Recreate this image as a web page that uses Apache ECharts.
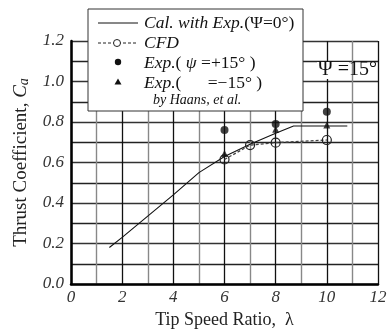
<!DOCTYPE html>
<html><head><meta charset="utf-8">
<script src="https://cdn.jsdelivr.net/npm/echarts@6/dist/echarts.min.js"></script>
<style>html,body{margin:0;padding:0;background:#fff}#c{width:387px;height:329px}</style>
</head><body><div id="c"></div>
<script>
// Data
const calX = [1.5, 2, 3, 4, 5, 6, 7, 8, 8.7, 10.8];
const calY = [0.18, 0.23, 0.335, 0.44, 0.55, 0.63, 0.69, 0.745, 0.78, 0.78];
const cfdX = [6, 7, 8, 10];
const cfdY = [0.615, 0.686, 0.698, 0.711];
const expPlusX = [6, 8, 10];
const expPlusY = [0.76, 0.79, 0.851];
const expMinusX = [6, 8, 10];
const expMinusY = [0.645, 0.764, 0.785];
const xTicks = [0, 2, 4, 6, 8, 10, 12];
const yTicks = ['0.0', '0.2', '0.4', '0.6', '0.8', '1.0', '1.2'];

const zip = (a, b) => a.map((v, i) => [v, b[i]]);
const serif = '"Liberation Serif", "DejaVu Serif", serif';
const chart = echarts.init(document.getElementById('c'));
const option = {
  animation: false,
  backgroundColor: '#fff',
  grid: { left: 71, right: 9, top: 41, bottom: 45, containLabel: false, outerBoundsMode: 'none' },
  xAxis: {
    type: 'value', min: 0, max: 12, interval: 2,
    name: 'Tip Speed Ratio,  λ', nameLocation: 'middle', nameGap: 26,
    nameTextStyle: { fontFamily: serif, fontSize: 18, color: '#222' },
    axisLine: { lineStyle: { color: '#000', width: 2.5 } },
    axisTick: { show: false },
    axisLabel: { fontFamily: serif, fontStyle: 'italic', fontSize: 17, color: '#333', margin: 5,
      formatter: v => String(v) },
    splitLine: { show: true, lineStyle: { color: '#111', width: 1.3 } },
    minorTick: { show: false, splitNumber: 2 },
    minorSplitLine: { show: true, lineStyle: { color: '#888', width: 1.4 } }
  },
  yAxis: {
    type: 'value', min: 0, max: 1.2, interval: 0.2,
    name: '{t|Thrust Coefficient, }{i|C}{s|a}', nameLocation: 'middle', nameGap: 40,
    nameTextStyle: { rich: {
      t: { fontFamily: serif, fontSize: 19, color: '#222' },
      i: { fontFamily: serif, fontSize: 19, fontStyle: 'italic', color: '#222' },
      s: { fontFamily: serif, fontSize: 14, fontStyle: 'italic', color: '#222', padding: [6, 0, 0, 0] }
    } },
    axisLine: { show: true, lineStyle: { color: '#000', width: 2.5 } },
    axisTick: { show: false },
    axisLabel: { fontFamily: serif, fontStyle: 'italic', fontSize: 17, color: '#333', margin: 7,
      formatter: (v) => yTicks[Math.round(v / 0.2)] },
    splitLine: { show: true, lineStyle: { color: '#333', width: 1.3 } },
    minorTick: { show: false, splitNumber: 2 },
    minorSplitLine: { show: true, lineStyle: { color: '#222', width: 1.3 } }
  },
  series: [
    { type: 'line', data: zip(calX, calY), symbol: 'none',
      lineStyle: { color: '#111', width: 1.1 }, z: 3 },
    { type: 'line', data: zip(cfdX, cfdY), symbol: 'circle', symbolSize: 9,
      lineStyle: { color: '#444', width: 1.3, type: [3, 2] },
      itemStyle: { color: 'rgba(0,0,0,0)', borderColor: '#222', borderWidth: 1.2 }, z: 4 },
    { type: 'scatter', data: zip(expPlusX, expPlusY), symbol: 'circle', symbolSize: 8,
      itemStyle: { color: '#111' }, z: 5 },
    { type: 'scatter', data: zip(expMinusX, expMinusY), symbol: 'triangle', symbolSize: 7,
      itemStyle: { color: '#111' }, z: 5 }
  ],
  graphic: [
    { type: 'rect', shape: { x: 88, y: 9, width: 215, height: 102 }, z: 100,
      style: { fill: '#fff', stroke: '#333', lineWidth: 1 } },
    { type: 'line', shape: { x1: 98, y1: 23, x2: 138, y2: 23 }, z: 101, style: { stroke: '#111', lineWidth: 1 } },
    { type: 'line', shape: { x1: 98, y1: 43, x2: 138, y2: 43 }, z: 101, style: { stroke: '#222', lineWidth: 1, lineDash: [3, 2] } },
    { type: 'circle', shape: { cx: 117, cy: 43, r: 3.5 }, z: 102, style: { fill: '#fff', stroke: '#222', lineWidth: 1 } },
    { type: 'circle', shape: { cx: 118, cy: 62, r: 3.2 }, z: 102, style: { fill: '#111' } },
    { type: 'polygon', shape: { points: [[118, 78.5], [114.5, 84.5], [121.5, 84.5]] }, z: 102, style: { fill: '#111' } },
    { type: 'text', x: 144, y: 23, z: 103, style: {
      text: '{i|Cal. with Exp.}{n|(Ψ=0°)}', verticalAlign: 'middle',
      rich: { i: { fontFamily: serif, fontStyle: 'italic', fontSize: 17.5, fill: '#111' },
              n: { fontFamily: serif, fontSize: 17.5, fill: '#111' } } } },
    { type: 'text', x: 144, y: 43, z: 103, style: {
      text: 'CFD', verticalAlign: 'middle', font: 'italic 17.5px ' + serif, fill: '#111' } },
    { type: 'text', x: 144, y: 63, z: 103, style: {
      text: '{i|Exp.}{n|( }{i|ψ}{n| =+15° )}', verticalAlign: 'middle',
      rich: { i: { fontFamily: serif, fontStyle: 'italic', fontSize: 17.5, fill: '#111' },
              n: { fontFamily: serif, fontSize: 17.5, fill: '#111' } } } },
    { type: 'text', x: 144, y: 83, z: 103, style: {
      text: '{i|Exp.}{n|(      =−15° )}', verticalAlign: 'middle',
      rich: { i: { fontFamily: serif, fontStyle: 'italic', fontSize: 17.5, fill: '#111' },
              n: { fontFamily: serif, fontSize: 17.5, fill: '#111' } } } },
    { type: 'text', x: 153, y: 100, z: 103, style: {
      text: 'by Haans, et al.', verticalAlign: 'middle', font: 'italic 14px ' + serif, fill: '#111' } },
    { type: 'rect', shape: { x: 317, y: 62, width: 32, height: 17 }, z: 90, style: { fill: '#fff' } },
    { type: 'text', x: 318, y: 70, z: 91, style: {
      text: 'Ψ =15°', verticalAlign: 'middle', font: '20px ' + serif, fill: '#111' } }
  ]
};
chart.setOption(option);
</script></body></html>
